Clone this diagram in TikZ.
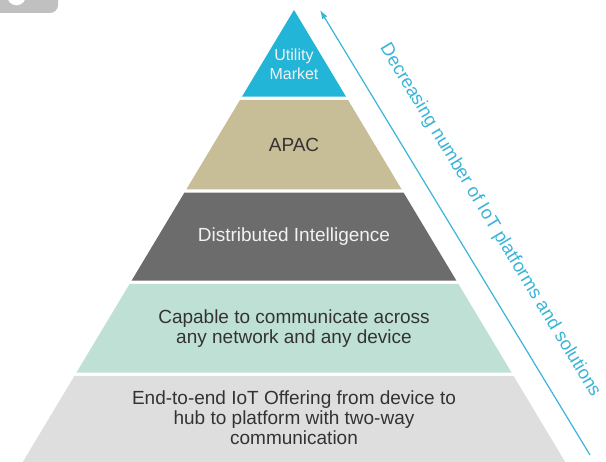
\documentclass[tikz,border=0pt]{standalone}
\usepackage{fontspec}
\setmainfont{Liberation Sans}
\usetikzlibrary{arrows.meta}
\definecolor{utilcyan}{RGB}{34,181,216}
\definecolor{apactan}{RGB}{199,189,151}
\definecolor{distgrey}{RGB}{108,108,108}
\definecolor{commmint}{RGB}{191,225,213}
\definecolor{endgrey}{RGB}{222,222,222}
\definecolor{arrowcyan}{RGB}{58,180,217}
\definecolor{darktext}{RGB}{51,51,51}
\definecolor{lighttext}{RGB}{242,242,242}
\definecolor{badgegrey}{RGB}{192,192,192}

\tikzset{%
  >={Latex[length=9pt,width=6pt]},
  layertext/.style={align=center,inner sep=0pt,text=darktext,
    font=\fontsize{19}{20}\selectfont}
}

\begin{document}
\begin{tikzpicture}[x=1pt,y=-1pt]
     \useasboundingbox (0,0) rectangle (606,462);
     \fill[badgegrey] (0,0) -- (58,0) -- (58,5) arc[start angle=0,end angle=90,radius=8] -- (0,13) -- cycle;
     \fill[white] (16.5,-4) circle[radius=9.3];

     \foreach \ya/\yb/\col in
       {10/96.7/utilcyan, 100/189.3/apactan, 192.7/280.7/distgrey,
        284/372.7/commmint, 376/462/endgrey}
       \fill[\col] ({294-0.6*(\ya-10)},\ya) -- ({294+0.6*(\ya-10)},\ya)
         -- ({294+0.6*(\yb-10)},\yb) -- ({294-0.6*(\yb-10)},\yb) -- cycle;

     \node[layertext,text=lighttext,font=\fontsize{16}{19}\selectfont] (utility) at (294,64.5) {Utility\\Market};
     \node[layertext] (apac) at (294,144.5) {APAC};
     \node[layertext,text=lighttext] (distrib) at (294,236.5) {Distributed Intelligence};
     \node[layertext] (comm) at (294,329) {Capable to communicate across\\any network and any device};
     \node[layertext] (endtoend) at (294,418) {End-to-end IoT Offering from device to\\hub to platform with two-way\\communication};

     \coordinate (arrowtail) at (590,455);
     \coordinate (arrowtip) at (320,10);
     \draw[->,arrowcyan,line width=1.2pt] (arrowtail) -- (arrowtip)
       node[pos=0.485,sloped,above=27pt,inner sep=0pt,font=\fontsize{18.5}{20}\selectfont] (trend)
       {Decreasing number of IoT platforms and solutions};
\end{tikzpicture}
\end{document}
